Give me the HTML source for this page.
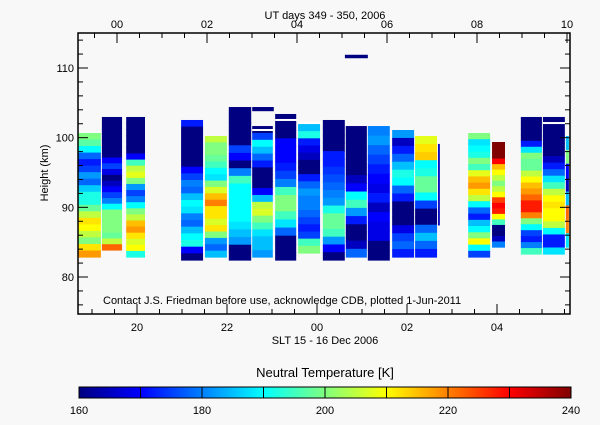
<!DOCTYPE html>
<html><head><meta charset="utf-8"><style>
body{margin:0;background:#f8f8f8;}
svg text{font-family:"Liberation Sans",sans-serif;font-size:11px;fill:#000;}
</style></head><body>
<svg id="chart" width="600" height="420" xmlns="http://www.w3.org/2000/svg">
<rect width="600" height="420" fill="#f8f8f8"/>
<g id="cells"></g>
<g id="axes"></g>
<defs><linearGradient id="jet" x1="0" x2="1" y1="0" y2="0">
<stop offset="0" stop-color="#000080"/><stop offset="0.125" stop-color="#0000ff"/><stop offset="0.375" stop-color="#00ffff"/><stop offset="0.625" stop-color="#ffff00"/><stop offset="0.875" stop-color="#ff0000"/><stop offset="1" stop-color="#800000"/></linearGradient></defs>
<text x="325" y="19" text-anchor="middle">UT days 349 - 350, 2006</text>
<text x="325" y="344" text-anchor="middle">SLT 15 - 16 Dec 2006</text>
<text transform="translate(48,173) rotate(-90)" text-anchor="middle">Height (km)</text>
<text x="103" y="304">Contact J.S. Friedman before use, acknowledge CDB, plotted 1-Jun-2011</text>
<text x="325" y="377" text-anchor="middle" font-size="13" style="font-size:13px">Neutral Temperature [K]</text>
<rect x="79" y="387" width="492" height="11" fill="url(#jet)" stroke="#000"/>
<g id="cbar"></g>
</svg>
<script>
const colStart=[18.69,19.22,19.76,20.98,21.51,22.04,22.56,23.07,23.58,24.13,24.64,25.13,25.67,26.18,27.36,27.89,28.53,29.02,29.53];
const colEnd=[19.22,19.69,20.2,21.49,22.02,22.56,23.04,23.56,24.09,24.64,25.13,25.64,26.18,26.69,27.87,28.2,29.02,29.53,29.62];
const colTop=[100.67,102.97,102.97,102.54,100.24,104.4,101.67,103.4,101.96,102.54,101.67,101.67,101.1,100.24,100.67,99.38,102.97,102.97,100.24];
const colBot=[82.87,83.88,82.87,82.44,82.87,82.44,82.87,82.44,83.45,82.44,82.87,82.44,82.87,82.87,82.87,84.3,83.3,83.3,84.3];
const colTemps=[
[200,197,190,178,172,175,182,178,186,192,192,198,205,212,210,205,200,212,218],
[160,160,160,160,160,160,160,170,175,168,160,165,170,175,180,190,200,200,200,200,198,205,222],
[160,160,160,160,160,160,170,195,205,208,200,182,175,180,190,200,205,215,218,212,207,210,192],
[172,160,160,160,160,160,160,170,175,180,178,185,190,188,180,178,185,190,192,170,160],
[205,200,200,198,195,190,188,200,207,215,220,212,212,207,212,200,182,178,185],
[160,160,160,160,160,175,170,160,180,195,190,190,190,190,190,188,185,182,160,160],
[160,175,190,185,178,172,160,160,160,170,185,205,207,200,195,188,185,185,182],
[160,160,160,170,170,170,172,175,180,195,200,200,195,188,178,160,160,160],
[185,192,172,168,165,160,160,172,178,182,180,180,178,175,172,175,195,200],
[160,160,160,160,172,172,174,176,178,180,182,192,198,198,195,182,170,160],
[160,160,160,160,160,160,165,170,190,195,182,172,160,160,165,178],
[180,182,178,175,172,170,168,172,165,170,168,168,160,160],
[182,165,172,178,185,192,190,178,172,160,160,160,168,175,178,172],
[208,212,214,190,192,198,198,190,175,160,160,178,185,178,172],
[200,188,190,192,200,195,208,215,218,212,205,190,178,172,185,190,200,210,190,175],
[240,240,240,230,215,210,205,200,205,210,225,230,228,210,195,160,160,165,180],
[160,160,160,160,172,188,200,198,198,205,210,215,218,222,228,228,220,200,190,175,172,180,195],
[160,160,160,160,160,160,165,172,178,188,195,205,210,212,210,210,205,190,172,172,188],
[185,200,170,165,185,222,220,188]];
const extraStart=[24.62,26.69,22.56];
const extraEnd=[25.13,26.73,23.04];
const extraTop=[111.9,99.1,104.4];
const extraBot=[111.4,87.4,103.8];
const extraTemp=[160,165,160];
const gapStart=[22.56,23.07,23.58,29.02];
const gapEnd=[23.04,23.56,24.09,29.53];
const gapKm=[101.1,102.54,102.1,102.1];
const yTicks=[80,90,100,110];
const sltTicks=["20","22","00","02","04"];
const sltHours=[20,22,24,26,28];
const utTicks=["00","02","04","06","08","10"];
const utHours=[0,2,4,6,8,10];
const cbTicks=[160,180,200,220,240];

const X0=78,X1=570,Y0=33,Y1=314;
const xS=h=>137+(h-20)*45;
const xU=u=>117+u*45;
const yK=k=>68+(110-k)*6.967;
function jet(t){let v=Math.max(0,Math.min(1,(t-160)/80));
 const f=(a)=>Math.max(0,Math.min(1,1.5-Math.abs(4*v-a)));
 return `rgb(${Math.round(255*f(3))},${Math.round(255*f(2))},${Math.round(255*f(1))})`;}
const NS="http://www.w3.org/2000/svg";
function mk(tag,attrs,parent){const e=document.createElementNS(NS,tag);for(const k in attrs)e.setAttribute(k,attrs[k]);parent.appendChild(e);return e;}
const cells=document.getElementById('cells'),axes=document.getElementById('axes');
colTemps.forEach((arr,i)=>{
 const x=xS(colStart[i]),w=Math.max(1,xS(colEnd[i])-x-1),yt=yK(colTop[i]),yb=yK(colBot[i]),bh=(yb-yt)/arr.length;
 arr.forEach((t,j)=>{const r=mk('rect',{x:x,y:yt+j*bh,width:w,height:bh+0.6,fill:jet(t)},cells);
  
  });
});
extraTemp.forEach((t,i)=>{const r=mk('rect',{x:xS(extraStart[i]),y:yK(extraTop[i]),width:xS(extraEnd[i])-xS(extraStart[i]),height:yK(extraBot[i])-yK(extraTop[i]),fill:jet(t)},cells);
 
 });
gapKm.forEach((k,i)=>{const r=mk('rect',{x:xS(gapStart[i]),y:yK(k)-1,width:xS(gapEnd[i])-xS(gapStart[i]),height:2,fill:'#fff'},cells);
 
 });
const fr=mk('rect',{x:X0,y:Y0,width:X1-X0,height:Y1-Y0,fill:'none',stroke:'#000','stroke-width':1.5},axes);


for(let k=76;k<=114;k+=2){const y=yK(k);if(y<Y0||y>Y1)continue;const L=(k%10===0)?10:5;
 mk('line',{x1:X0,x2:X0+L,y1:y,y2:y,stroke:'#000'},axes);mk('line',{x1:X1,x2:X1-L,y1:y,y2:y,stroke:'#000'},axes);}
yTicks.forEach(k=>{const t=mk('text',{x:X0-4,y:yK(k)+4,'text-anchor':'end'},axes);t.textContent=k;
 
 });
for(let h=19;h<=30;h+=0.5){const x=xS(h);if(x<X0||x>X1)continue;const L=(h%2===0)?10:5;mk('line',{x1:x,x2:x,y1:Y1,y2:Y1-L,stroke:'#000'},axes);}
sltHours.forEach((h,i)=>{const t=mk('text',{x:xS(h),y:Y1+17,'text-anchor':'middle'},axes);t.textContent=sltTicks[i];
 
 });
for(let u=-1;u<=11;u+=0.5){const x=xU(u);if(x<X0||x>X1)continue;const L=(u%2===0)?10:5;mk('line',{x1:x,x2:x,y1:Y0,y2:Y0+L,stroke:'#000'},axes);}
utHours.forEach((u,i)=>{const t=mk('text',{x:xU(u),y:Y0-5,'text-anchor':'middle'},axes);t.textContent=utTicks[i];
 
 });
const cb=document.getElementById('cbar');
const xC=v=>79+(v-160)*492/80;
for(let v=170;v<240;v+=10)mk('line',{x1:xC(v),x2:xC(v),y1:387,y2:398,stroke:'#000'},cb);
cbTicks.forEach(v=>{const t=mk('text',{x:xC(v),y:414,'text-anchor':'middle'},cb);t.textContent=v;
 
 });
</script>
</body></html>
